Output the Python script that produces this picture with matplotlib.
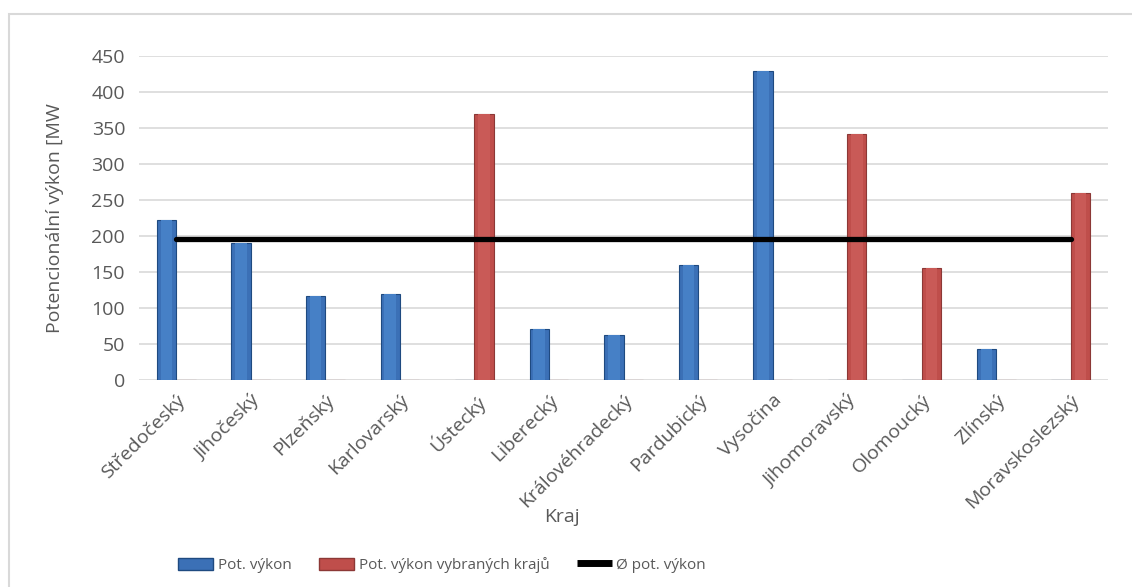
import numpy as np
import matplotlib
matplotlib.use("Agg")
import matplotlib.pyplot as plt
from matplotlib.patches import Rectangle
from matplotlib.lines import Line2D

plt.rcParams['font.family'] = ['Open Sans', 'DejaVu Sans']

kraje = ['Středočeský', 'Jihočeský', 'Plzeňský', 'Karlovarský', 'Ústecký',
         'Liberecký', 'Královéhradecký', 'Pardubický', 'Vysočina',
         'Jihomoravský', 'Olomoucký', 'Zlínský', 'Moravskoslezský']
vykon = [222, 190, 117, 120, 0, 71, 63, 160, 429, 0, 0, 43, 0]
vykon_vybrane = [0, 0, 0, 0, 369, 0, 0, 0, 0, 341, 156, 0, 260]

celkem = np.array(vykon) + np.array(vykon_vybrane)
prumer = celkem.mean()

seda = '#595959'
modra, modra_okraj, modra_svetla = '#3B70B6', '#1F4A80', '#4680C6'
cervena, cervena_okraj, cervena_svetla = '#BF4E4B', '#8C3836', '#C95A57'

fig = plt.figure(figsize=(11.32, 5.87), dpi=100)
ax = fig.add_axes([0.1228, 0.3526, 0.8560, 0.5520])

x = np.arange(len(kraje))
w = 0.26
ax.bar(x - w / 2, vykon, w, color=modra, edgecolor=modra_okraj, linewidth=0.8, zorder=3)
ax.bar(x - w / 2, vykon, w * 0.6, color=modra_svetla, linewidth=0, zorder=3)
ax.bar(x + w / 2, vykon_vybrane, w, color=cervena, edgecolor=cervena_okraj, linewidth=0.8, zorder=3)
ax.bar(x + w / 2, vykon_vybrane, w * 0.6, color=cervena_svetla, linewidth=0, zorder=3)

ax.plot(x, [prumer] * len(x), color='black', linewidth=3.8, solid_capstyle='round', zorder=4)

ax.set_xlim(-0.5, len(kraje) - 0.5)
ax.set_ylim(0, 450)
ax.set_yticks(range(0, 451, 50))
ax.yaxis.grid(True, color='#D9D9D9', linewidth=1.2, zorder=0)
ax.set_axisbelow(True)
for s in ax.spines.values():
    s.set_visible(False)
ax.tick_params(length=0, labelsize=14, colors=seda, pad=10)
ax.set_xticks(x)
ax.set_xticklabels(kraje, rotation=45, ha='right', rotation_mode='anchor')
ax.tick_params(axis='x', pad=8)

ax.set_ylabel('Potencionální výkon [MW', fontsize=14, color=seda, labelpad=20)
fig.text(0.4965, 1 - 517 / 587, 'Kraj', fontsize=14, color=seda, ha='center', va='center')

handles = [
    Rectangle((0, 0), 1, 1, facecolor=modra, edgecolor=modra_okraj),
    Rectangle((0, 0), 1, 1, facecolor=cervena, edgecolor=cervena_okraj),
    Line2D([], [], color='black', linewidth=5, solid_capstyle='butt'),
]
fig.legend(handles, ['Pot. výkon', 'Pot. výkon vybraných krajů', 'Ø pot. výkon'],
           loc='center', bbox_to_anchor=(442 / 1132, 1 - 565 / 587), ncol=3, frameon=False,
           fontsize=11, labelcolor=seda, handlelength=2.3, handleheight=0.8,
           handletextpad=0.3, columnspacing=1.8)

fig.patches.append(Rectangle((9 / 1132, -0.1), 1.2, 1 - 14 / 587 + 0.1,
                             transform=fig.transFigure, fill=False,
                             edgecolor='#D9D9D9', linewidth=1.5))

fig.savefig('out.png', dpi=100)
